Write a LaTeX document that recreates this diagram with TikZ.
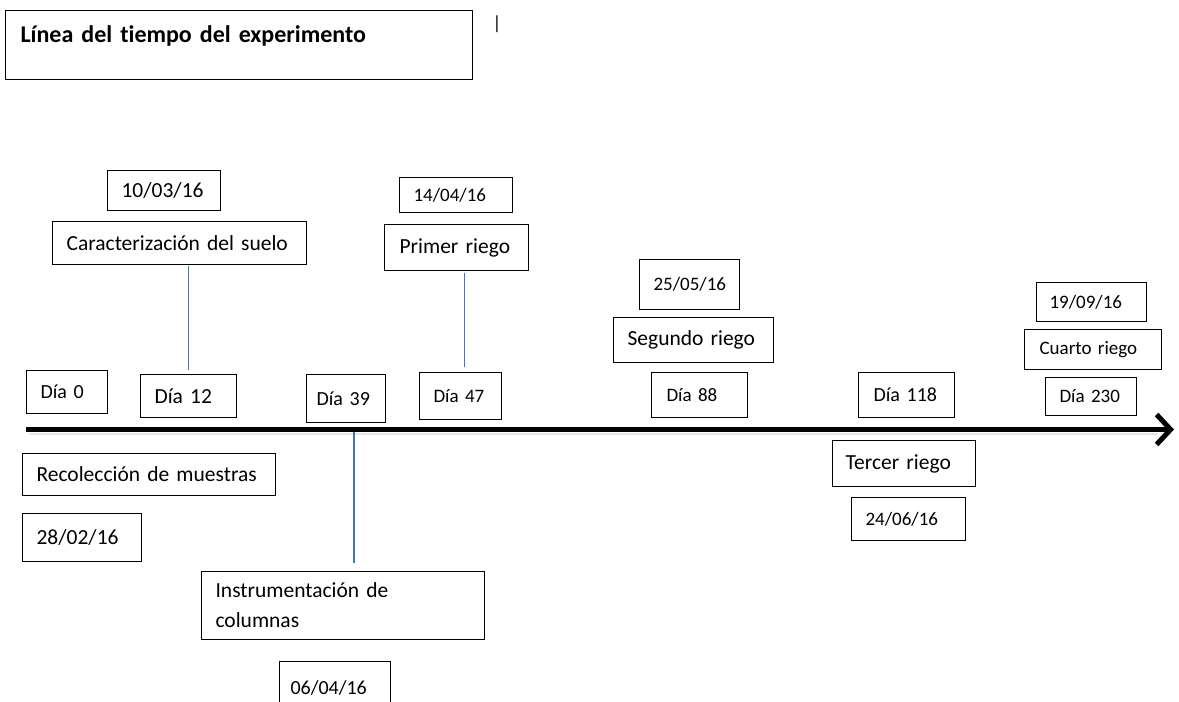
\documentclass[tikz,border=0pt]{standalone}
\usepackage{fontspec}
\setmainfont{Carlito}[Ligatures=NoCommon]
\usepackage{tikz}
\usetikzlibrary{arrows.meta}
\definecolor{linkblue}{RGB}{68,114,196}

\begin{document}
\begin{tikzpicture}[x=1pt, y=-1pt, >={Straight Barb[length=14pt, width=30pt]},
    box/.style={draw, line width=1.1pt, anchor=north west, align=left,
        inner xsep=14pt, inner ysep=0pt, font=\fontsize{21.5}{30}\selectfont},
    midbox/.style={box, font=\fontsize{20}{28}\selectfont},
    smallbox/.style={box, font=\fontsize{19}{26}\selectfont},
    link/.style={draw=linkblue, line width=1.1pt}]

    % ==========================================
    % FRAME (fixes the page to the reference size)
    % ==========================================
    \useasboundingbox (0,0) rectangle (1179,702);

    % Title
    \node[box, text width=437pt, inner xsep=15pt, text height=32pt, text depth=37pt,
        font=\fontsize{24}{30}\selectfont\bfseries] (title) at (5,10)
        {Línea del tiempo del experimento};
    \node[font=\fontsize{19}{24}\selectfont, inner sep=0pt] (cursor) at (497,24) {|};

    % ==========================================
    % Time axis
    % ==========================================
    \coordinate (tl0) at (26,429.5);
    \coordinate (tl1) at (1174,429.5);
    \draw[line width=2.5pt, black!10] (29,434) -- (1158,434); % shadow
    \draw[->, line width=5pt] (tl0) -- (tl1);

    % Day marks (above the axis)
    \node[midbox, text width=53pt, minimum height=43pt] (dia0) at (26,370) {Día 0};
    \node[box, text width=68pt, minimum height=43pt] (dia12) at (140,374) {Día 12};
    \node[midbox, text width=59pt, inner xsep=10pt, minimum height=48pt] (dia39) at (306,374) {Día 39};
    \node[smallbox, text width=54pt, minimum height=47pt] (dia47) at (419,372) {Día 47};
    \node[smallbox, text width=66pt, inner xsep=15pt, minimum height=45pt] (dia88) at (651,372) {Día 88};
    \node[midbox, text width=66pt, inner xsep=15pt, minimum height=45pt] (dia118) at (858,372) {Día 118};
    \node[smallbox, text width=63pt, minimum height=38pt] (dia230) at (1045,377) {Día 230};

    % Events above the axis
    \node[box, text width=85pt, minimum height=40pt] (d1003) at (107,170) {10/03/16};
    \node[box, text width=226pt, minimum height=43pt] (carac) at (52,221) {Caracterización del suelo};
    \node[smallbox, text width=85pt, minimum height=35pt] (d1404) at (399,177) {14/04/16};
    \node[box, text width=114pt, inner xsep=15pt, minimum height=46pt] (primer) at (384,224) {Primer riego};
    \node[smallbox, text width=72pt, inner xsep=14pt, minimum height=50pt] (d2505) at (639,259) {25/05/16};
    \node[box, text width=132pt, minimum height=45pt] (segundo) at (613,317) {Segundo riego};
    \node[smallbox, text width=84pt, inner xsep=13pt, minimum height=39pt] (d1909) at (1036,282) {19/09/16};
    \node[smallbox, text width=107pt, inner xsep=15pt, minimum height=40pt] (cuarto) at (1024,329) {Cuarto riego};

    % Events below the axis
    \node[box, text width=225pt, minimum height=42pt] (recol) at (22,453) {Recolección de muestras};
    \node[box, text width=91pt, minimum height=48pt] (d2802) at (22,513) {28/02/16};
    \node[box, text width=255pt, minimum height=68pt] (instr) at (201,571)
        {Instrumentación de\\columnas};
    \node[midbox, text width=89pt, inner xsep=11pt, minimum height=52pt] (d0604) at (279,661) {06/04/16};
    \node[box, text width=117pt, inner xsep=13pt, minimum height=46pt] (tercer) at (832,440) {Tercer riego};
    \node[smallbox, text width=86pt, minimum height=43pt] (d2406) at (851,497) {24/06/16};

    % Connectors
    \draw[link, shorten <=1pt, shorten >=4pt] (dia12.north |- carac.south) -- (dia12.north);
    \draw[link, shorten <=2pt, shorten >=5pt] ([xshift=3.5pt]dia47.north |- primer.south)
        -- ([xshift=3.5pt]dia47.north);
    \coordinate (cut39) at (354,432);
    \draw[link, shorten >=8pt] (cut39) -- (cut39 |- instr.north);

\end{tikzpicture}
\end{document}
